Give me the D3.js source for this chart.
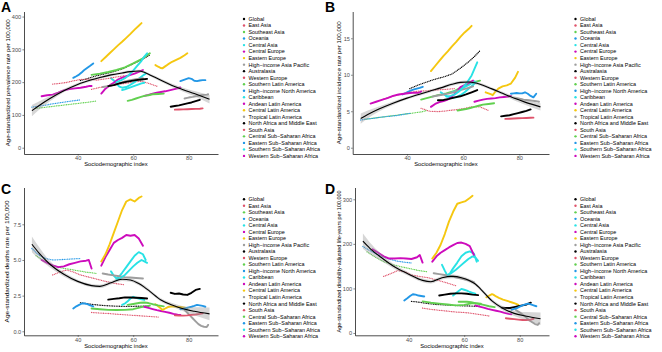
<!DOCTYPE html>
<html>
<head>
<meta charset="utf-8">
<script src="https://cdn.jsdelivr.net/npm/d3@7"></script>
<style>
  body { margin: 0; background: #fff; }
  svg { display: block; font-family: "Liberation Sans", Arial, sans-serif; }
</style>
</head>
<body>
<svg id="chart" width="662" height="352"></svg>
<script>
// Regions in legend order
const regions = [
  "Global", "East Asia", "Southeast Asia", "Oceania", "Central Asia", "Central Europe",
  "Eastern Europe", "High\u2212income Asia Pacific", "Australasia", "Western Europe",
  "Southern Latin America", "High\u2212income North America", "Caribbean", "Andean Latin America",
  "Central Latin America", "Tropical Latin America", "North Africa and Middle East", "South Asia",
  "Central Sub\u2212Saharan Africa", "Eastern Sub\u2212Saharan Africa", "Southern Sub\u2212Saharan Africa",
  "Western Sub\u2212Saharan Africa"
];
const palette = ["#000000", "#DF536B", "#61D04F", "#2297E6", "#28E2E5", "#CD0BBC", "#F5C710", "#9E9E9E"];
// series drawn as sparse dots (fast moving SDI)
const dottedRegions = ["Global", "East Asia", "South Asia", "Central Sub\u2212Saharan Africa", "Eastern Sub\u2212Saharan Africa"];

// Sociodemographic index per region (shared by all four panels)
const sdi = [
  [41, 44, 47, 50, 53, 56, 59, 62, 64, 66],
  [45, 48, 51, 54, 57, 60, 63, 66, 69],
  [45, 48, 51, 54, 57, 60, 63, 66],
  [38.4, 39.5, 40.5, 41.5, 42.5, 43.5, 44.5, 45.6],
  [52, 53, 54, 55, 56, 57.5, 59, 60.5, 62, 63.5, 64.5],
  [64, 65.5, 67, 68.5, 70, 71.5, 73, 74.5, 76, 77],
  [68, 69, 70, 70.5, 71.5, 72.5, 74, 75.5, 77, 78.5, 79.5],
  [78.5, 79.5, 80.5, 81.5, 82.5, 83.5, 84.5, 85.5, 86.5, 87],
  [73.5, 75, 76.5, 78, 79.5, 81, 82.5, 84],
  [75, 76.5, 78, 79.5, 81, 82.5, 84, 85],
  [58, 59.5, 61, 62.5, 64, 65.5, 67, 69, 71],
  [77, 78, 79, 80, 81, 82, 83, 84, 85, 86],
  [56, 57, 58, 59, 60, 61, 62, 63, 64],
  [48.5, 50, 51.5, 53, 54.5, 56, 57.5, 59, 60.5, 62, 63.5],
  [48.5, 50, 51.5, 53, 54.5, 56, 57.5, 59, 60.5, 62, 63],
  [49, 51, 53, 55, 57, 59, 61, 63.5],
  [51, 53, 55, 57, 59, 61, 63, 65],
  [31, 33.5, 36, 38.5, 41, 44, 47, 50, 53.5, 57],
  [25, 28, 31, 34, 37, 40, 43, 45, 47],
  [23.5, 26, 28.5, 31, 33.5, 36, 38.5, 41],
  [54, 55.5, 57, 58.5, 60, 61.5, 63, 64, 65],
  [27, 29, 31, 33, 35, 37, 39, 41, 43, 44, 45]
];

// A: age-standardized prevalence rate
const prevalence = [
  [205, 212, 220, 226, 232, 240, 252, 264, 273, 283],
  [178, 184, 188, 192, 196, 200, 203, 195, 186],
  [222, 226, 231, 237, 245, 257, 270, 288],
  [213, 218, 223, 230, 238, 244, 250, 257],
  [212, 205, 195, 186, 183, 185, 192, 200, 210, 220, 226],
  [158, 161, 165, 168, 170, 172, 175, 178, 181, 184],
  [252, 247, 243, 242, 248, 254, 262, 268, 274, 282, 288],
  [150, 152, 154, 155, 157, 158, 160, 161, 162, 163],
  [125, 127, 129, 132, 135, 138, 142, 146],
  [116, 116.5, 117, 117.5, 118, 118.5, 119, 120],
  [143, 146, 150, 154, 158, 160, 163, 164, 165],
  [203, 206, 209, 212, 210, 204, 203, 205, 206, 206],
  [176, 178, 181, 184, 187, 190, 193, 196, 198],
  [165, 180, 190, 198, 208, 214, 218, 222, 226, 231, 237],
  [264, 276, 288, 300, 312, 323, 335, 347, 360, 372, 380],
  [185, 188, 192, 197, 202, 206, 209, 212],
  [188, 191, 196, 200, 203, 206, 208, 210],
  [194, 196, 199, 204, 208, 209, 206, 210, 215, 220],
  [120, 123, 126, 129, 132, 135, 138, 140, 143],
  [124, 127, 130, 134, 137, 140, 143, 146],
  [200, 205, 212, 222, 235, 250, 265, 278, 288],
  [157, 160, 162, 168, 175, 179, 181, 183, 186, 188, 188]
];

// B: age-standardized incidence rate
const incidence = [
  [8.1, 8.6, 9.0, 9.4, 9.7, 10.1, 10.9, 11.8, 12.5, 13.3],
  [5.4, 5.0, 4.95, 5.05, 5.2, 5.35, 5.6, 5.6, 5.1],
  [6.6, 6.9, 7.2, 7.45, 7.8, 8.4, 8.9, 9.2],
  [7.3, 7.5, 7.7, 7.85, 8.0, 8.1, 8.2, 8.35],
  [7.6, 7.35, 7.1, 6.9, 6.8, 6.9, 7.2, 7.6, 8.1, 8.6, 9.0],
  [6.3, 6.45, 6.6, 6.7, 6.75, 6.8, 6.9, 6.95, 7.0, 7.1],
  [7.6, 7.45, 7.3, 7.2, 7.7, 8.1, 8.4, 8.55, 8.8, 9.6, 10.4],
  [6.8, 6.75, 6.7, 6.6, 6.55, 6.5, 6.45, 6.4, 6.35, 6.3],
  [4.3, 4.38, 4.45, 4.6, 4.75, 4.9, 5.05, 5.25],
  [3.95, 3.97, 4.0, 4.03, 4.06, 4.08, 4.1, 4.12],
  [5.1, 5.2, 5.3, 5.45, 5.6, 5.75, 5.9, 6.0, 6.1],
  [7.4, 7.45, 7.5, 7.45, 7.45, 7.6, 7.4, 7.1, 6.9, 7.4],
  [7.6, 7.7, 7.85, 8.0, 8.2, 8.4, 8.6, 8.85, 9.1],
  [5.6, 6.0, 6.25, 6.4, 6.6, 7.0, 7.6, 8.3, 8.6, 8.9, 9.2],
  [10.5, 11.2, 11.9, 12.6, 13.2, 13.9, 14.5, 15.2, 15.8, 16.3, 16.7],
  [7.0, 7.15, 7.3, 7.45, 7.65, 7.9, 8.1, 8.4],
  [6.5, 6.55, 6.7, 6.9, 7.05, 7.3, 7.6, 7.9],
  [6.6, 6.9, 7.15, 7.4, 7.6, 7.75, 7.8, 7.9, 8.0, 8.1],
  [3.9, 4.05, 4.2, 4.35, 4.5, 4.65, 4.8, 4.9, 5.1],
  [3.8, 3.95, 4.05, 4.2, 4.3, 4.4, 4.55, 4.7],
  [7.0, 7.1, 7.3, 7.7, 8.3, 9.0, 9.9, 10.8, 11.7],
  [6.05, 6.3, 6.55, 6.8, 7.1, 7.3, 7.4, 7.5, 7.55, 7.5, 7.7]
];

// C: age-standardized deaths rate
const deaths = [
  [2.0, 1.92, 1.85, 1.8, 1.77, 1.75, 1.75, 1.76, 1.77, 1.77],
  [1.32, 1.28, 1.25, 1.2, 1.16, 1.12, 1.08, 1.04, 1.0],
  [1.6, 1.55, 1.5, 1.49, 1.5, 1.55, 1.7, 1.8],
  [1.6, 1.75, 1.85, 1.95, 1.95, 1.9, 1.82, 1.75],
  [4.2, 3.9, 3.7, 3.85, 4.1, 4.5, 4.9, 5.3, 5.55, 5.4, 5.0],
  [1.72, 1.64, 1.56, 1.48, 1.42, 1.36, 1.3, 1.22, 1.16, 1.14],
  [1.9, 1.75, 1.6, 1.5, 1.6, 1.7, 1.75, 1.72, 1.7, 1.65, 1.6],
  [1.5, 1.3, 1.1, 0.9, 0.7, 0.5, 0.38, 0.32, 0.3, 0.45],
  [2.7, 2.62, 2.65, 2.58, 2.55, 2.7, 2.9, 2.97],
  [1.12, 1.1, 1.1, 1.12, 1.15, 1.18, 1.22, 1.26],
  [1.85, 1.9, 1.95, 2.0, 2.02, 1.98, 1.9, 1.82, 1.75],
  [1.55, 1.58, 1.62, 1.68, 1.72, 1.78, 1.85, 1.82, 1.78, 1.72],
  [1.85, 1.95, 2.1, 2.3, 2.42, 2.35, 2.3, 2.25, 2.2],
  [4.6, 5.2, 5.7, 6.2, 6.4, 6.55, 6.75, 6.7, 6.75, 6.5, 6.0],
  [4.9, 5.4, 6.1, 6.9, 7.7, 8.5, 9.1, 9.25, 9.1, 9.35, 9.45],
  [4.05, 3.98, 3.92, 3.86, 3.8, 3.77, 3.74, 3.7],
  [2.22, 2.27, 2.32, 2.38, 2.37, 2.35, 2.33, 2.3],
  [3.95, 4.15, 4.3, 4.15, 3.95, 3.8, 3.65, 3.5, 3.35, 3.25],
  [5.3, 4.9, 4.6, 4.45, 4.35, 4.25, 4.15, 4.1, 4.05],
  [5.8, 5.35, 5.1, 5.0, 5.02, 5.05, 5.08, 5.1],
  [3.6, 3.75, 3.95, 4.25, 4.55, 4.8, 5.0, 4.9, 4.8],
  [5.0, 4.8, 4.62, 4.5, 4.55, 4.7, 4.8, 4.9, 4.95, 5.0, 4.4]
];

// D: age-standardized DALYs
const dalys = [
  [71, 69, 66, 64, 63, 62, 61, 60.5, 60, 60],
  [56, 53, 51, 49, 47, 46, 44, 41, 38],
  [71, 68, 66, 64, 62, 63, 67, 66],
  [73, 78, 83, 87, 86, 84, 83, 82],
  [153, 140, 128, 135, 145, 158, 172, 180, 183, 178, 160],
  [62, 59, 57, 54, 52, 50, 48, 45, 43, 42],
  [80, 84, 87, 86, 82, 79, 75, 72, 69, 66, 63],
  [52, 48, 44, 39, 34, 28, 24, 20, 18, 22],
  [57, 56, 56, 58, 60, 62, 64, 68],
  [33, 32, 31, 30, 29, 29, 30, 32],
  [70, 70, 70, 69, 67, 65, 63, 60, 58],
  [52, 54, 56, 59, 62, 64, 66, 64, 62, 60],
  [84, 89, 94, 99, 97, 95, 92, 90, 88],
  [160, 172, 180, 186, 192, 197, 202, 203, 200, 195, 175],
  [167, 180, 198, 222, 250, 272, 290, 293, 296, 303, 308],
  [134, 132, 130, 128, 125, 122, 119, 114],
  [84, 86, 88, 89, 89, 88, 86, 85],
  [127, 133, 140, 138, 130, 127, 124, 119, 113, 106],
  [182, 170, 160, 154, 149, 145, 141, 139, 137],
  [194, 185, 177, 170, 165, 161, 159, 157],
  [130, 135, 142, 150, 158, 166, 172, 170, 162],
  [188, 180, 172, 167, 167, 168, 167, 166, 170, 175, 158]
];

// Smoothed fit (black line) and its standard-error band
const smoothSdi = [23.5, 26, 30, 35, 40, 45, 48, 52, 56, 59, 62, 64, 66, 70, 74, 78, 82, 87.5];
const smoothPrev = [113, 128, 150, 174, 193, 207, 214, 222, 228, 232, 234, 230, 222, 206, 190, 177, 165, 148];
const sePrev = [17, 13, 8, 5, 4, 4, 4, 4, 4, 4, 4, 4, 4, 4.5, 5, 6, 8, 13];
const smoothInc = [4.0, 4.55, 5.3, 6.1, 6.8, 7.4, 7.75, 8.2, 8.7, 8.95, 9.0, 8.9, 8.7, 8.1, 7.45, 6.8, 6.25, 5.6];
const seInc = [0.7, 0.55, 0.35, 0.25, 0.2, 0.2, 0.2, 0.2, 0.2, 0.2, 0.2, 0.2, 0.2, 0.2, 0.22, 0.28, 0.35, 0.5];
const smoothDeaths = [6.1, 5.5, 4.7, 4.0, 3.5, 3.2, 3.15, 3.4, 3.65, 3.6, 3.35, 3.1, 2.8, 2.2, 1.85, 1.58, 1.4, 1.22];
const seDeaths = [0.55, 0.42, 0.22, 0.15, 0.12, 0.12, 0.12, 0.12, 0.12, 0.12, 0.12, 0.12, 0.12, 0.12, 0.13, 0.18, 0.28, 0.45];
const smoothDalys = [206, 190, 170, 148, 132, 118, 115, 124, 127, 124, 117, 110, 98, 72, 55, 44, 38, 32];
const seDalys = [17, 13, 8, 5, 4, 4, 4, 4, 4, 4, 4, 4, 4, 4, 4.5, 6, 9, 14];

const xTicks = [40, 60, 80];

// Panel layout
const panels = [
  { letter: "A", values: prevalence, fit: smoothPrev, se: sePrev,
    x0: 24, x1: 218, y0: 11.5, y1: 154, yDomain: [-19.2, 415.4], yTicks: [0, 100, 200, 300, 400], fmt: d3.format("d"),
    yTitle: "Age-standardized prevalence rate per 100,000", yTitleX: 7.5, yTitleLen: 127,
    xTitleX: 116, legX: 244, legY: 19, letterX: 1, letterY: 11.7 },
  { letter: "B", values: incidence, fit: smoothInc, se: seInc,
    x0: 352.7, x1: 549, y0: 11.5, y1: 154, yDomain: [-0.86, 18.67], yTicks: [0, 5, 10, 15], fmt: d3.format("d"),
    yTitle: "Age-standardized incidence rate per 100,000", yTitleX: 338.5, yTitleLen: 123,
    xTitleX: 446, legX: 575.5, legY: 19, letterX: 325, letterY: 11.7 },
  { letter: "C", values: deaths, fit: smoothDeaths, se: seDeaths,
    x0: 24, x1: 218, y0: 187.5, y1: 335.3, yDomain: [-0.28, 10.08], yTicks: [0, 2.5, 5, 7.5], fmt: d3.format(".1f"),
    yTitle: "Age-standardized deaths rate per 100,000", yTitleX: 6.5, yTitleLen: 122,
    xTitleX: 116, legX: 244, legY: 199.3, letterX: 1, letterY: 194 },
  { letter: "D", values: dalys, fit: smoothDalys, se: seDalys,
    x0: 355, x1: 549, y0: 187.5, y1: 335.3, yDomain: [-5.2, 326.5], yTicks: [0, 100, 200, 300], fmt: d3.format("d"),
    yTitle: "Age-standardized disability-adjusted life-years per 100,000", yTitleX: 338.5, yTitleLen: 142,
    xTitleX: 452, legX: 575.5, legY: 199.3, letterX: 325, letterY: 194 }
];

const svg = d3.select("#chart");
const color = i => palette[i % palette.length];

panels.forEach(p => {
  const g = svg.append("g");
  const x = d3.scaleLinear().domain([20.65, 90.55]).range([p.x0, p.x1]);
  const y = d3.scaleLinear().domain(p.yDomain).range([p.y1, p.y0]);

  // region trajectories
  const line = d3.line().x(d => x(d[0])).y(d => y(d[1]));
  regions.forEach((name, i) => {
    const pts = sdi[i].map((s, j) => [s, p.values[i][j]]);
    const dotted = dottedRegions.includes(name);
    g.append("path")
      .attr("d", line(pts))
      .attr("fill", "none")
      .attr("stroke", color(i))
      .attr("stroke-width", dotted ? 1.3 : 1.9)
      .attr("stroke-linecap", "round")
      .attr("stroke-linejoin", "round")
      .attr("stroke-dasharray", dotted ? "0.01 1.7" : null);
  });

  // smooth fit with band
  const fitPts = smoothSdi.map((s, j) => ({ s, v: p.fit[j], e: p.se[j] }));
  g.append("path")
    .attr("d", d3.area().x(d => x(d.s)).y0(d => y(d.v - d.e)).y1(d => y(d.v + d.e)).curve(d3.curveMonotoneX)(fitPts))
    .attr("fill", "#999999")
    .attr("fill-opacity", 0.4);
  g.append("path")
    .attr("d", d3.line().x(d => x(d.s)).y(d => y(d.v)).curve(d3.curveMonotoneX)(fitPts))
    .attr("fill", "none")
    .attr("stroke", "#000")
    .attr("stroke-width", 1.1);

  // axes
  const xAxis = g.append("g")
    .attr("transform", `translate(0,${p.y1})`)
    .call(d3.axisBottom(x).tickValues(xTicks).tickSize(1.6).tickSizeOuter(0).tickPadding(0.8));
  const yAxis = g.append("g")
    .attr("transform", `translate(${p.x0},0)`)
    .call(d3.axisLeft(y).tickValues(p.yTicks).tickFormat(p.fmt).tickSize(1.6).tickSizeOuter(0).tickPadding(1.2));
  [xAxis, yAxis].forEach(a => {
    a.select(".domain").attr("stroke", "#000").attr("stroke-width", 0.7);
    a.selectAll(".tick line").attr("stroke", "#333").attr("stroke-width", 0.6);
    a.selectAll("text").attr("font-size", 5.6).attr("fill", "#4d4d4d")
      .attr("font-family", "'Liberation Sans', Arial, sans-serif");
  });

  // axis titles
  g.append("text")
    .attr("x", p.xTitleX).attr("y", p.y1 + 12.3)
    .attr("text-anchor", "middle").attr("font-size", 5.8)
    .text("Sociodemographic index");
  g.append("text")
    .attr("transform", `translate(${p.yTitleX},${(p.y0 + p.y1) / 2}) rotate(-90)`)
    .attr("text-anchor", "middle").attr("dy", "0.35em").attr("font-size", 5.8)
    .attr("textLength", p.yTitleLen).attr("lengthAdjust", "spacingAndGlyphs")
    .text(p.yTitle);

  // panel letter
  svg.append("text")
    .attr("x", p.letterX).attr("y", p.letterY)
    .attr("font-size", 14).attr("font-weight", "bold")
    .text(p.letter);

  // legend
  const leg = g.append("g");
  regions.forEach((name, i) => {
    const row = leg.append("g").attr("transform", `translate(${p.legX},${p.legY + i * 6.52})`);
    row.append("circle").attr("r", 1.2).attr("fill", color(i));
    row.append("text").attr("x", 4.5).attr("dy", "0.35em")
      .attr("font-size", 5.4).attr("fill", "#000").text(name);
  });
});
</script>
</body>
</html>
